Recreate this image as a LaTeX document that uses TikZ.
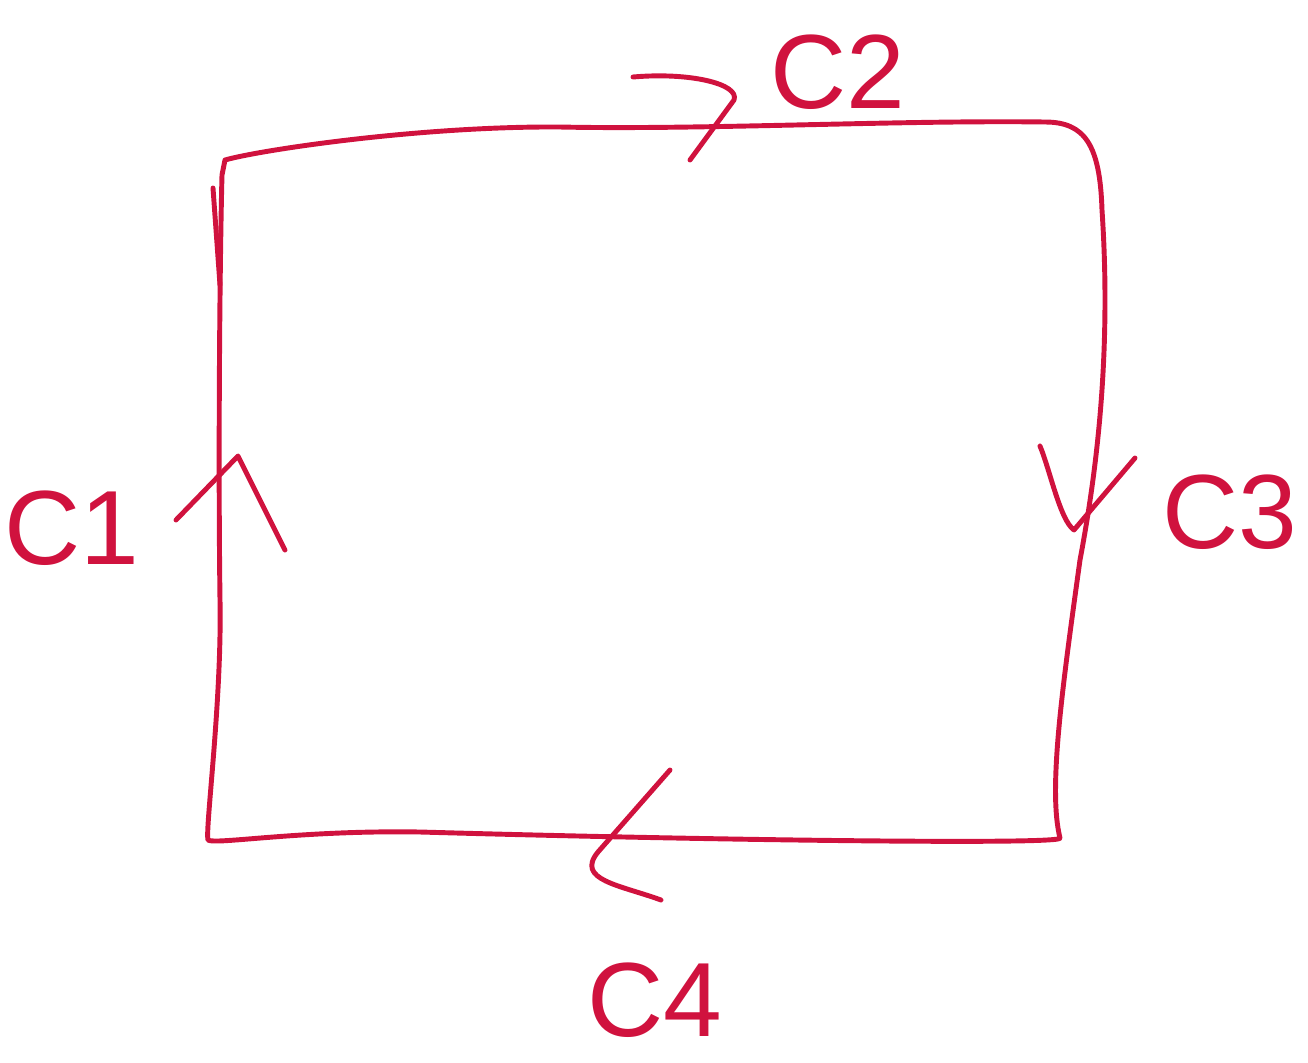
\documentclass[tikz,border=0pt]{standalone}
\usepackage{fontspec}
\setmainfont{Liberation Sans}
\usetikzlibrary{positioning}
\definecolor{inkred}{RGB}{208,18,62}

\begin{document}
\begin{tikzpicture}[
x=0.01cm, y=-0.01cm,
contour/.style={draw=inkred, line width=1.4pt, line cap=round, line join=round},
every node/.style={text=inkred, font=\fontsize{30}{30}\selectfont, inner sep=0pt}
]
\useasboundingbox (0,0) rectangle (1308,1063);

\coordinate (tl) at (225,160);
\coordinate (tr) at (1045,122);
\coordinate (br) at (1060,838);
\coordinate (bl) at (208,840);

% the closed curve
\draw[contour] (tl) .. controls (260,150) and (420,126) .. (560,127)
  .. controls (700,130) and (900,120) .. (tr)
  .. controls (1085,122) and (1100,145) .. (1102,210)
  .. controls (1112,360) and (1095,480) .. (1080,560)
  .. controls (1062,690) and (1048,790) .. (br)
  .. controls (1065,845) and (700,840) .. (420,832)
  .. controls (300,830) and (215,845) .. (bl)
  .. controls (205,830) and (222,700) .. (220,600)
  .. controls (218,450) and (220,250) .. (222,175)
  -- (tl);
\draw[contour] (213,188) -- (220,285);

% direction marks
\draw[contour] (176,520) -- (238,456) .. controls (255,490) and (270,520) .. (285,550);
\draw[contour] (633,77) .. controls (690,72) and (740,84) .. (734,100) -- (690,160);
\draw[contour] (1040,446) .. controls (1050,470) and (1060,520) .. (1074,530) -- (1135,458);
\draw[contour] (670,770) -- (598,852) .. controls (575,880) and (620,885) .. (661,900);

% labels
\node (c1) at (72,528) {C1};
\node (c2) at (838,72) {C2};
\node (c3) at (1230,512) {C3};
\node (c4) at (655,1000) {C4};

\end{tikzpicture}
\end{document}
